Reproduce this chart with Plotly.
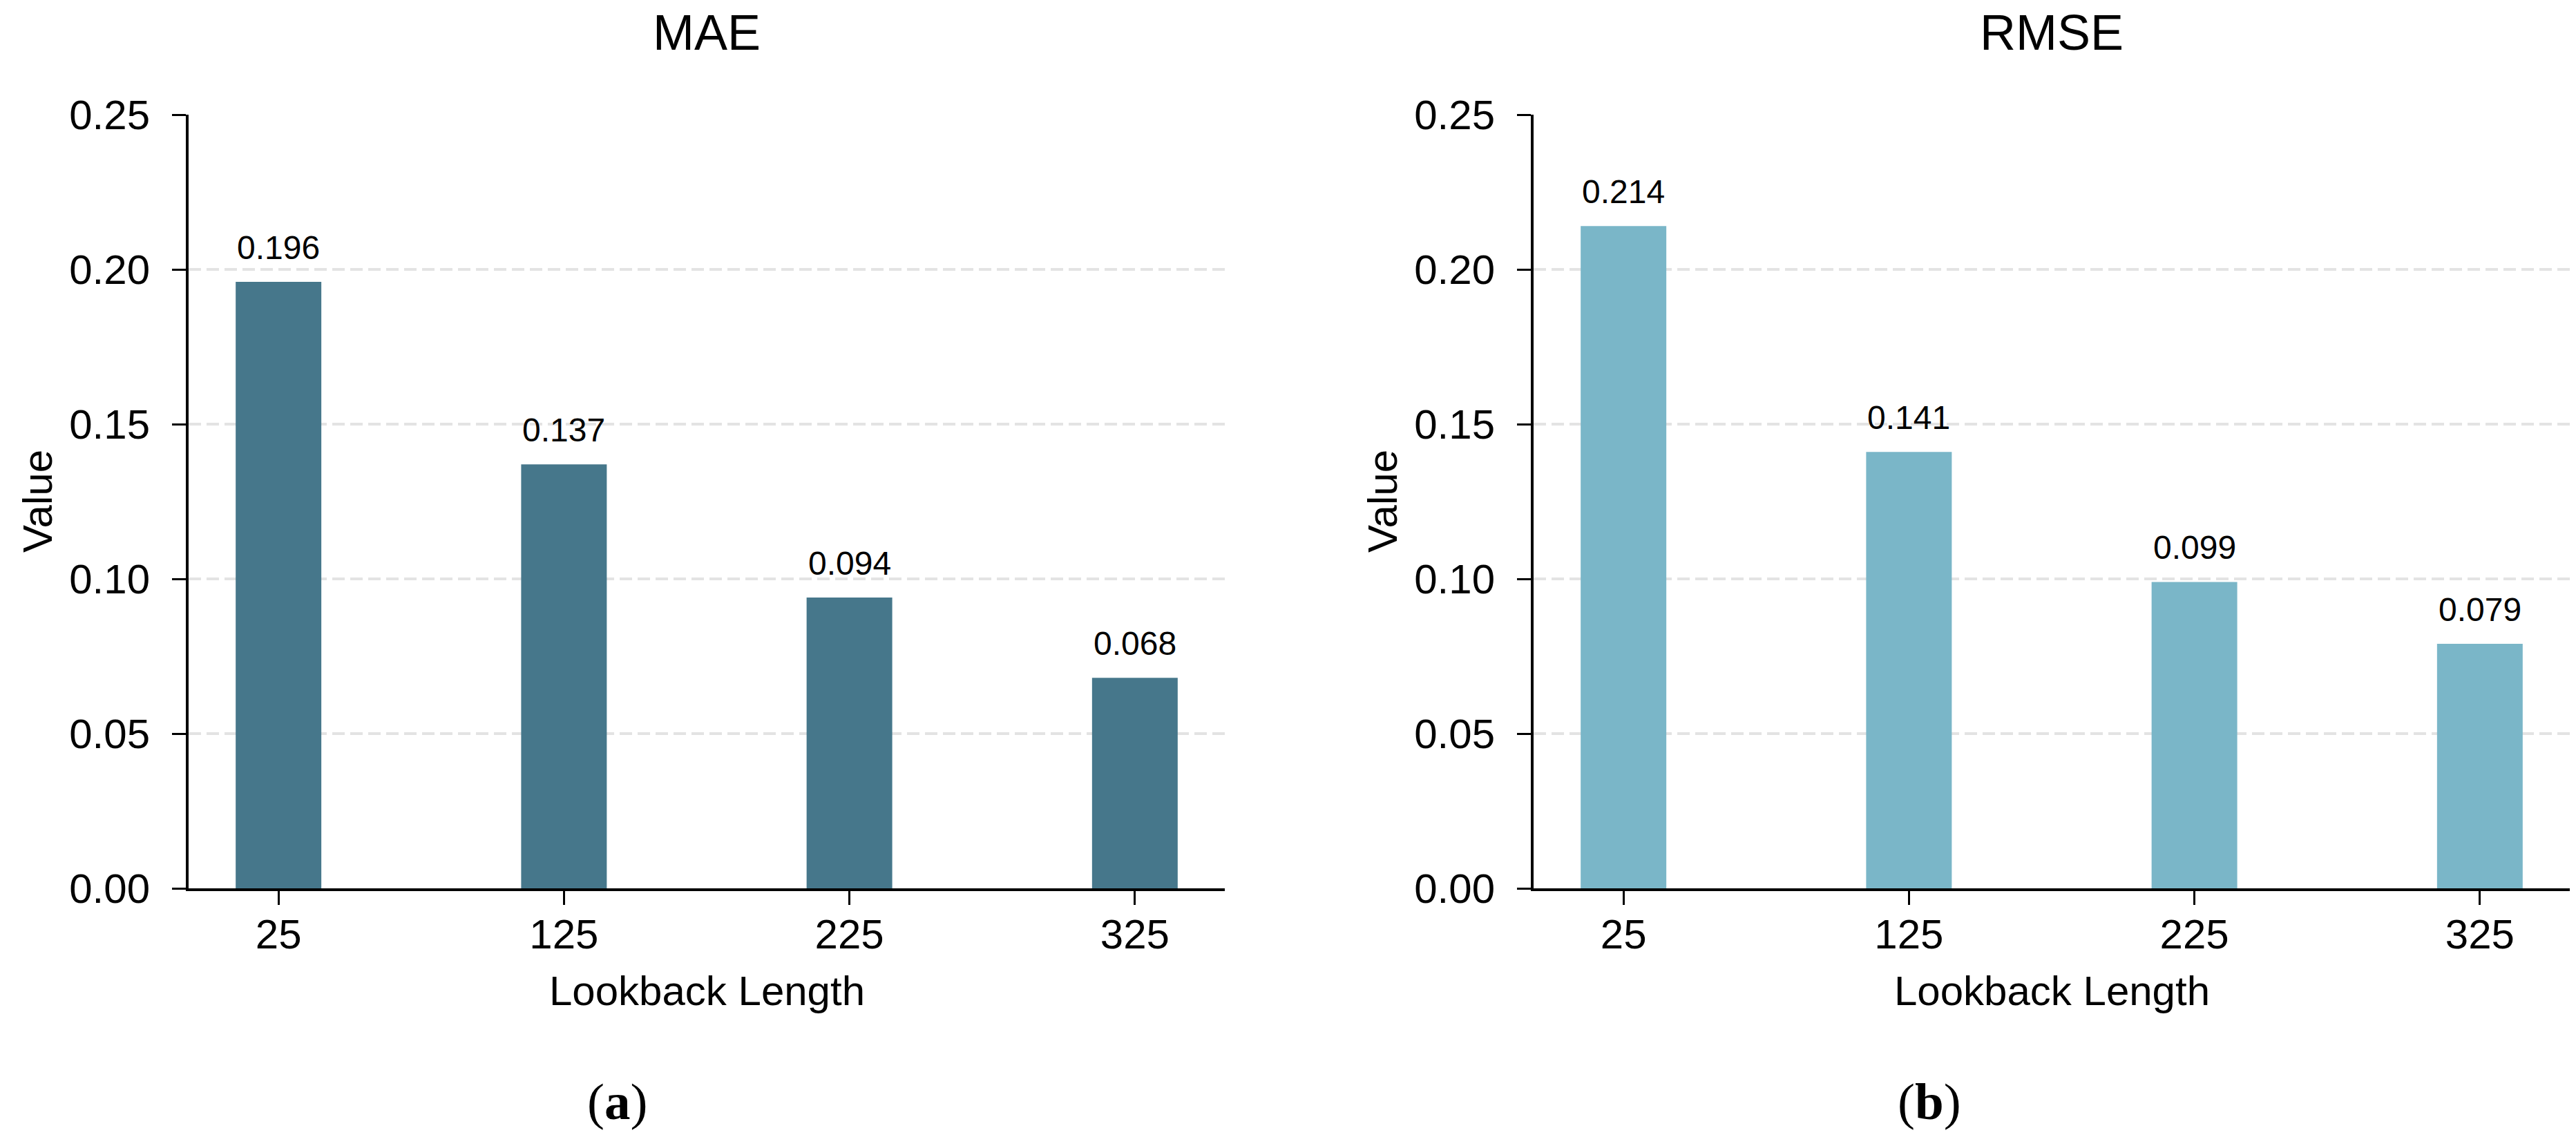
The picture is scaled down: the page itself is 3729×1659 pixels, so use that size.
import plotly.graph_objects as go

# ---- data ----
lookback = [25, 125, 225, 325]
mae = [0.196, 0.137, 0.094, 0.068]
rmse = [0.214, 0.141, 0.099, 0.079]
y_ticks = [0.00, 0.05, 0.10, 0.15, 0.20, 0.25]
panel_titles = ["MAE", "RMSE"]
captions = ["a", "b"]
x_title = "Lookback Length"
y_title = "Value"

# ---- styling ----
PAGE_W, PAGE_H = 3729, 1659
OFF_Y = 8  # vertical body margin of the html page
W, H = PAGE_W, PAGE_H - 2 * OFF_Y
FONT = "Arial, 'Liberation Sans', Helvetica, sans-serif"
SERIF = "'Times New Roman', 'Liberation Serif', Times, serif"
colors = ["#46778B", "#7AB6C8"]
x_dom_px = [(265, 1765), (2212, 3712)]
y_dom_px = (166, 1286)
caption_x_px = [885, 2785]


def fx(p):
    return p / W


def fy(p):
    return 1 - (p - OFF_Y) / H


cats = [str(v) for v in lookback]
series = [mae, rmse]

fig = go.Figure()
annotations = []
for i, vals in enumerate(series):
    xa = "x" if i == 0 else "x2"
    ya = "y" if i == 0 else "y2"
    fig.add_trace(go.Bar(
        x=cats, y=vals, width=0.3,
        marker=dict(color=colors[i], line=dict(width=0)),
        xaxis=xa, yaxis=ya, showlegend=False, hoverinfo="x+y",
    ))
    for j, v in enumerate(vals):
        annotations.append(dict(
            x=j, y=v, xref=xa, yref=ya, text=f"{v:.3f}", showarrow=False,
            yanchor="bottom", xanchor="center", yshift=21,
            font=dict(family=FONT, size=48, color="black"),
        ))
    x0, x1 = x_dom_px[i]
    cx = (x0 + x1) / 2
    annotations.append(dict(
        x=fx(cx), y=fy(47), xref="paper", yref="paper", text=panel_titles[i],
        showarrow=False, xanchor="center", yanchor="middle",
        font=dict(family=FONT, size=72, color="black"),
    ))
    annotations.append(dict(
        x=fx(cx), y=fy(1434), xref="paper", yref="paper", text=x_title,
        showarrow=False, xanchor="center", yanchor="middle",
        font=dict(family=FONT, size=60, color="black"),
    ))
    annotations.append(dict(
        x=fx(x0 - 219), y=fy((y_dom_px[0] + y_dom_px[1]) / 2), xref="paper", yref="paper",
        text=y_title, textangle=-90,
        showarrow=False, xanchor="center", yanchor="middle",
        font=dict(family=FONT, size=60, color="black"),
    ))
    annotations.append(dict(
        x=fx(caption_x_px[i]), y=fy(1594), xref="paper", yref="paper",
        text=f"(<b>{captions[i]}</b>)",
        showarrow=False, xanchor="center", yanchor="middle",
        font=dict(family=SERIF, size=75, color="black"),
    ))

common_x = dict(
    type="category", range=[-0.315, 3.315], showline=True, linewidth=4, linecolor="black",
    ticks="outside", ticklen=20, tickwidth=3, tickcolor="black",
    tickfont=dict(family=FONT, size=60, color="black"), ticklabelstandoff=-9,
    showgrid=False, zeroline=False, fixedrange=True, automargin=False,
)
common_y = dict(
    range=[0, 0.25], tickvals=y_ticks, ticktext=[f"{t:.2f}" for t in y_ticks],
    showline=True, linewidth=4, linecolor="black",
    ticks="outside", ticklen=20, tickwidth=3, tickcolor="black",
    tickfont=dict(family=FONT, size=60, color="black"), ticklabelstandoff=20,
    showgrid=True, gridcolor="#e3e3e3", gridwidth=4, griddash="18px,8px",
    zeroline=False, fixedrange=True, automargin=False,
)

yd = [fy(y_dom_px[1]), fy(y_dom_px[0])]
fig.update_layout(
    width=W, height=H,
    margin=dict(l=0, r=0, t=0, b=0, pad=0, autoexpand=False),
    paper_bgcolor="white", plot_bgcolor="white",
    showlegend=False,
    xaxis=dict(common_x, domain=[fx(x_dom_px[0][0]), fx(x_dom_px[0][1])], anchor="y"),
    yaxis=dict(common_y, domain=yd, anchor="x"),
    xaxis2=dict(common_x, domain=[fx(x_dom_px[1][0]), fx(x_dom_px[1][1])], anchor="y2"),
    yaxis2=dict(common_y, domain=yd, anchor="x2"),
    annotations=annotations,
)

fig.write_html("out.html")
